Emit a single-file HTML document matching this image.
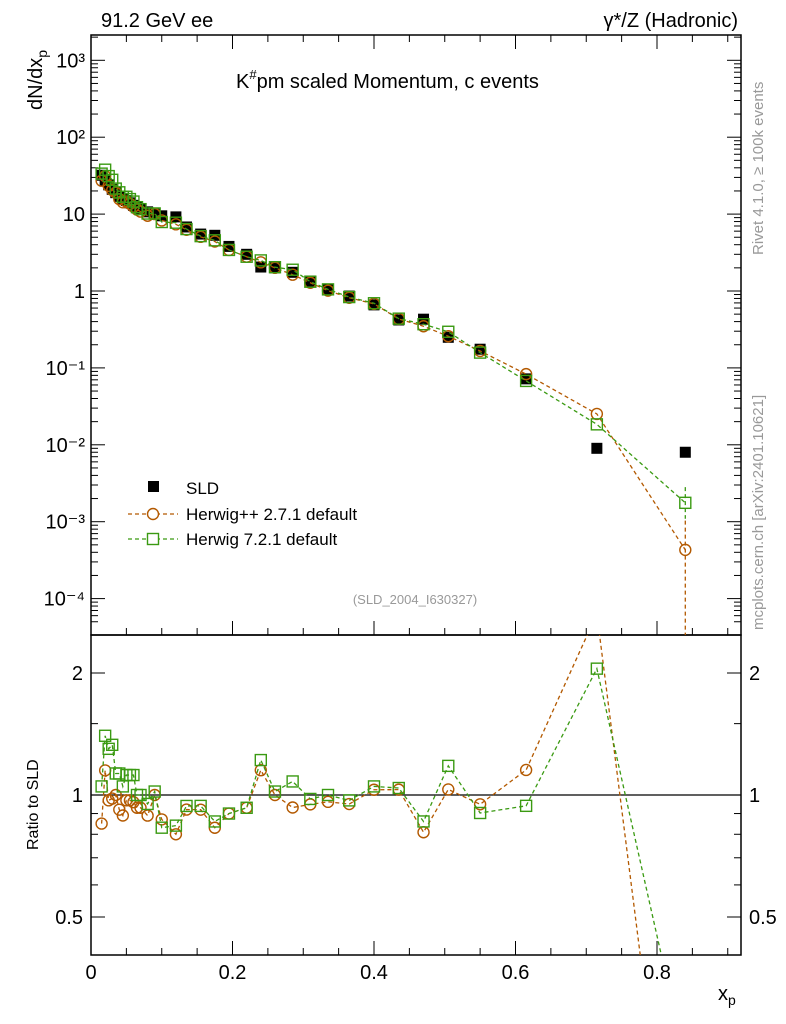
<!DOCTYPE html>
<html><head><meta charset="utf-8"><style>
html,body{margin:0;padding:0;background:#fff;width:786px;height:1024px;overflow:hidden;}
svg{display:block;font-family:"Liberation Sans",sans-serif;overflow:hidden;}
</style></head><body>
<svg id="chart" width="786" height="1024" viewBox="0 0 786 1024">
<g id="layer"></g>
</svg>
<script>
const xs=[0.015,0.02,0.025,0.03,0.035,0.04,0.045,0.05,0.055,0.06,0.065,0.07,0.08,0.09,0.1,0.12,0.135,0.155,0.175,0.195,0.22,0.24,0.26,0.285,0.31,0.335,0.365,0.4,0.435,0.47,0.505,0.55,0.615,0.715,0.84];
const sld=[32,27,24,21,19,17,16,15,14,13,12.3,11.6,10.7,10,9.5,9.2,6.8,5.5,5.3,3.8,3.0,2.05,2.0,1.75,1.35,1.05,0.86,0.66,0.42,0.43,0.25,0.175,0.072,0.009,0.008];
const hpp=[27.2,31.05,23.28,20.58,19,15.64,14.24,14.55,13.58,12.48,11.44,10.79,9.52,10,8.27,7.36,6.26,5.06,4.40,3.42,2.79,2.36,2.0,1.63,1.28,1.01,0.817,0.68,0.433,0.348,0.258,0.166,0.083,0.0252,0.00043];
const h7=[33.6,37.8,31.2,27.93,21.47,19.21,16.8,16.8,15.68,14.56,12.3,11.6,10.17,10.2,7.89,7.73,6.39,5.17,4.56,3.42,2.79,2.50,2.04,1.89,1.32,1.05,0.834,0.693,0.437,0.370,0.295,0.158,0.0677,0.01845,0.00176];
const yTicksMain=["10\u207B\u2074","10\u207B\u00B3","10\u207B\u00B2","10\u207B\u00B9","1","10","10\u00B2","10\u00B3"];
const xTickLabels=["0","0.2","0.4","0.6","0.8"];

const NS="http://www.w3.org/2000/svg";
const L=document.getElementById('layer');
function mk(t,a,parent){const e=document.createElementNS(NS,t);for(const k in a)e.setAttribute(k,a[k]);(parent||L).appendChild(e);return e;}
const X0=91,X1=741,MT=35,MB=635,RB=955;
const sx=v=>91+v*707.5;
const sy=v=>291-76.9*Math.log10(v);
const ry=v=>795-122*Math.log2(v);
const BRN="#b35900",GRN="#3a9a12";

let f=mk('rect',{x:X0,y:MT,width:X1-X0,height:MB-MT,fill:'none',stroke:'#000','stroke-width':1.5});

f=mk('rect',{x:X0,y:MB,width:X1-X0,height:RB-MB,fill:'none',stroke:'#000','stroke-width':1.5});


for(let d=-4;d<=3;d++){
  const y=sy(Math.pow(10,d));
  mk('line',{x1:X0,x2:X0+14,y1:y,y2:y,stroke:'#000'});mk('line',{x1:X1-14,x2:X1,y1:y,y2:y,stroke:'#000'});
  const t=mk('text',{x:X0-6,y:y+7,'text-anchor':'end','font-size':20});t.textContent=yTicksMain[d+4];
  
  for(let m=2;m<10;m++){const yy=sy(m*Math.pow(10,d));if(yy<MT)continue;
    mk('line',{x1:X0,x2:X0+7,y1:yy,y2:yy,stroke:'#000'});mk('line',{x1:X1-7,x2:X1,y1:yy,y2:yy,stroke:'#000'});}
}
for(let m=5;m<10;m++){const yy=sy(m*1e-5);if(yy<MB){mk('line',{x1:X0,x2:X0+7,y1:yy,y2:yy,stroke:'#000'});mk('line',{x1:X1-7,x2:X1,y1:yy,y2:yy,stroke:'#000'});}}
for(let i=0;i<=18;i++){const v=i*0.05,x=sx(v);if(x>X1)break;const big=i%4==0;
  const h=big?14:7;
  [MB,RB].forEach(b=>mk('line',{x1:x,x2:x,y1:b,y2:b-h,stroke:'#000'}));
  mk('line',{x1:x,x2:x,y1:MT,y2:MT+h,stroke:'#000'});
  if(big){const t=mk('text',{x:x,y:RB+24,'text-anchor':'middle','font-size':20});t.textContent=xTickLabels[i/4];
    }}
[[0.5,"0.5"],[1,"1"],[2,"2"]].forEach(([v,s])=>{const y=ry(v);
  mk('line',{x1:X0,x2:X0+14,y1:y,y2:y,stroke:'#000'});mk('line',{x1:X1-14,x2:X1,y1:y,y2:y,stroke:'#000'});
  let t=mk('text',{x:X0-8,y:y+7,'text-anchor':'end','font-size':20});t.textContent=s;
  t=mk('text',{x:X1+8,y:y+7,'font-size':20});t.textContent=s;});
[0.6,0.7,0.8,0.9,1.5].forEach(v=>{const y=ry(v);mk('line',{x1:X0,x2:X0+7,y1:y,y2:y,stroke:'#000'});mk('line',{x1:X1-7,x2:X1,y1:y,y2:y,stroke:'#000'});});
mk('line',{x1:X0,x2:X1,y1:ry(1),y2:ry(1),stroke:'#000','stroke-width':1.3});

const defs=mk('defs',{});
let cp=mk('clipPath',{id:'cm'},defs);mk('rect',{x:X0,y:MT,width:X1-X0,height:MB-MT},cp);
cp=mk('clipPath',{id:'cr'},defs);mk('rect',{x:X0,y:MB,width:X1-X0,height:RB-MB},cp);
const gm=mk('g',{'clip-path':'url(#cm)'}),gr=mk('g',{'clip-path':'url(#cr)'});

// clip each segment to y-range [lo,hi] (geometry only)
function clipPath(p,lo,hi){let d='',last=null;
  for(let i=0;i<p.length-1;i++){let [x1,y1]=p[i],[x2,y2]=p[i+1];
    let t0=0,t1=1;const dy=y2-y1;
    if(dy===0){if(y1<lo||y1>hi)continue;}
    else{let ta=(lo-y1)/dy,tb=(hi-y1)/dy;if(ta>tb)[ta,tb]=[tb,ta];t0=Math.max(t0,ta);t1=Math.min(t1,tb);if(t0>t1)continue;}
    const ax=x1+(x2-x1)*t0,ay=y1+dy*t0,bx=x1+(x2-x1)*t1,by=y1+dy*t1;
    if(!last||last[0]!==ax||last[1]!==ay)d+='M'+ax+','+ay;
    d+='L'+bx+','+by;last=[bx,by];}
  return d;}
function series(vals,col,shape,name,g,fy,lo,hi){
  const d=clipPath(xs.map((x,i)=>[sx(x),fy(vals[i])]),lo,hi);
  const pl=mk('path',{d:d,fill:'none',stroke:col,'stroke-width':1.3,'stroke-dasharray':'4,3'},g);
  
  xs.forEach((x,i)=>{const cx=sx(x),cy=fy(vals[i]);if(cy<lo||cy>hi)return;let m;
    if(shape=='c')m=mk('circle',{cx:cx,cy:cy,r:5.5,fill:'none',stroke:col,'stroke-width':1.4},g);
    else m=mk('rect',{x:cx-5.5,y:cy-5.5,width:11,height:11,fill:'none',stroke:col,'stroke-width':1.4},g);
    });
}
xs.forEach((x,i)=>{const m=mk('rect',{x:sx(x)-5.5,y:sy(sld[i])-5.5,width:11,height:11,fill:'#000'},gm);
  });
const n=xs.length-1;
mk('line',{x1:sx(xs[n]),x2:sx(xs[n]),y1:sy(hpp[n]*2.4),y2:MB,stroke:BRN,'stroke-width':1.3,'stroke-dasharray':'4,3'},gm);
mk('line',{x1:sx(xs[n]),x2:sx(xs[n]),y1:sy(h7[n]*1.6),y2:sy(h7[n]*0.62),stroke:GRN,'stroke-width':1.3,'stroke-dasharray':'4,3'},gm);
series(hpp,BRN,'c','herwigpp',gm,sy,MT-10,MB+10);
series(h7,GRN,'s','herwig7',gm,sy,MT-10,MB+10);
series(hpp.map((v,i)=>v/sld[i]),BRN,'c','herwigpp-ratio',gr,ry,MB-10,RB+10);
series(h7.map((v,i)=>v/sld[i]),GRN,'s','herwig7-ratio',gr,ry,MB-10,RB+10);

let lg=mk('g',{});
mk('rect',{x:148,y:481,width:11,height:11,fill:'#000'},lg);
let t=mk('text',{x:186,y:494,'font-size':17},lg);t.textContent='SLD';
mk('line',{x1:128,x2:178,y1:514,y2:514,stroke:BRN,'stroke-width':1.3,'stroke-dasharray':'4,3'},lg);
mk('circle',{cx:153,cy:514,r:5.5,fill:'#fff',stroke:BRN,'stroke-width':1.4},lg);
t=mk('text',{x:186,y:520,'font-size':17},lg);t.textContent='Herwig++ 2.7.1 default';
mk('line',{x1:128,x2:178,y1:539,y2:539,stroke:GRN,'stroke-width':1.3,'stroke-dasharray':'4,3'},lg);
mk('rect',{x:147.5,y:533.5,width:11,height:11,fill:'#fff',stroke:GRN,'stroke-width':1.4},lg);
t=mk('text',{x:186,y:545,'font-size':17},lg);t.textContent='Herwig 7.2.1 default';

function txt(x,y,s,sz,name,extra){const e=mk('text',Object.assign({x:x,y:y,'font-size':sz},extra||{}));e.innerHTML=s;return e;}
txt(101,27,'91.2 GeV ee',20,'header-left');
txt(738,27,'γ*/Z (Hadronic)',20,'header-right',{'text-anchor':'end'});
txt(236,88,'K<tspan font-size="13" dy="-9">#</tspan><tspan dy="9">pm scaled Momentum, c events</tspan>',20,'plot-title');
txt(415,604,'(SLD_2004_I630327)',13,'analysis-id',{'text-anchor':'middle',fill:'#999'});
txt(0,0,'dN/dx<tspan font-size="14" dy="5">p</tspan>',20,'y-axis-title',{transform:'translate(42,110) rotate(-90)'});
txt(0,0,'Ratio to SLD',16,'ratio-y-axis-title',{transform:'translate(38,850) rotate(-90)'});
txt(718,1000,'x<tspan font-size="14" dy="5">p</tspan>',20,'x-axis-title');
txt(0,0,'Rivet 4.1.0, ≥ 100k events',15,'rivet-label',{transform:'translate(763,255) rotate(-90)',fill:'#999'});
txt(0,0,'mcplots.cern.ch [arXiv:2401.10621]',15,'mcplots-label',{transform:'translate(763,630) rotate(-90)',fill:'#999'});
</script>
</body></html>
